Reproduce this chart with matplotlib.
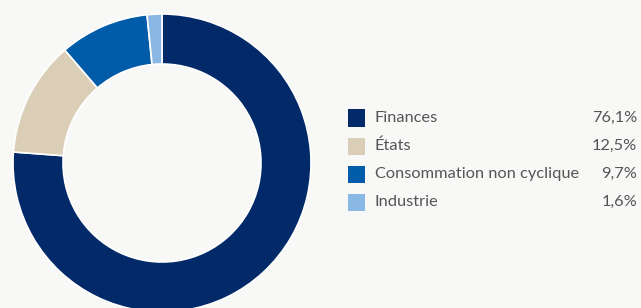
import matplotlib
matplotlib.use("Agg")
import matplotlib.pyplot as plt
from matplotlib.patches import Rectangle

labels = ["Finances", "États", "Consommation non cyclique", "Industrie"]
values = [76.1, 12.5, 9.7, 1.6]
pct_labels = ["76,1%", "12,5%", "9,7%", "1,6%"]
colors = ["#022a69", "#dacfb6", "#005ca9", "#8ab8e4"]

bg = "#f8f8f7"
W, H = 641, 308
fig = plt.figure(figsize=(W / 100, H / 100), dpi=100, facecolor=bg)

# donut: centre (162,163) px from top-left, outer radius 149 px, ring 50 px
cx, cy, r = 162, 163, 149
ax = fig.add_axes([(cx - r) / W, (H - cy - r) / H, 2 * r / W, 2 * r / H])
ax.set_facecolor(bg)
ax.pie(values, colors=colors, startangle=90, counterclock=False, radius=1,
       wedgeprops=dict(width=50 / 149, edgecolor="white", linewidth=1.2))
ax.set_xlim(-1, 1)
ax.set_ylim(-1, 1)
ax.axis("off")

# legend rows
row_y = [118, 146, 174, 202]
txt = "#555555"
for lab, pct, col, y in zip(labels, pct_labels, colors, row_y):
    fy = (H - y) / H
    fig.patches.append(Rectangle((348 / W, (H - y - 8.5) / H), 17 / W, 17 / H,
                                 transform=fig.transFigure, facecolor=col,
                                 edgecolor="none"))
    fig.text(375 / W, fy, lab, ha="left", va="center", fontsize=11.8,
             color=txt, family="Lato")
    fig.text(637 / W, fy, pct, ha="right", va="center", fontsize=11.8,
             color=txt, family="Lato")

fig.savefig("out.png", dpi=100, facecolor=bg)
